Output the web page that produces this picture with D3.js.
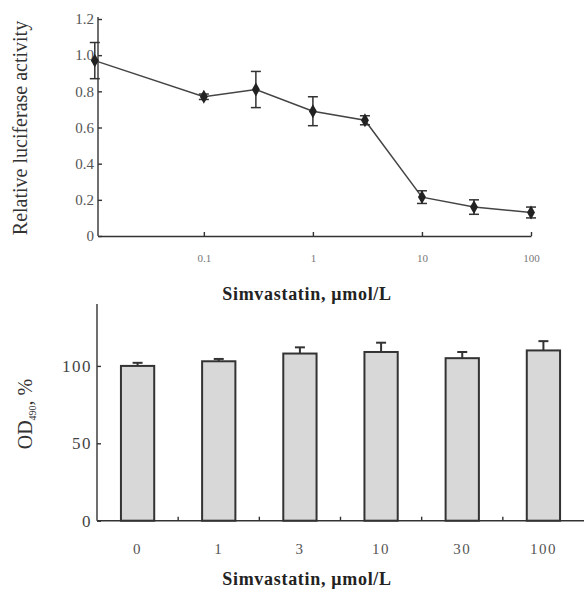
<!DOCTYPE html>
<html>
<head>
<meta charset="utf-8">
<script src="https://cdn.jsdelivr.net/npm/d3@7"></script>
<style>
  body { margin: 0; background: #fff; }
  svg { display: block; font-family: "Liberation Serif", "DejaVu Serif", serif; }
  .axis path, .axis line { stroke: #333; stroke-width: 1.4; }
  .axis text { font-family: "Liberation Serif", serif; }
</style>
</head>
<body>
<script>
// top panel: luciferase vs concentration (log x)
const concentrations = [0.01, 0.1, 0.3, 1, 3, 10, 30, 100];
const luciferase = [0.97, 0.77, 0.81, 0.69, 0.64, 0.215, 0.16, 0.13];
const luciferaseErr = [0.10, 0.015, 0.10, 0.08, 0.025, 0.035, 0.04, 0.03];
const logTicks = [0.1, 1, 10, 100];
const lucTicks = [0, 0.2, 0.4, 0.6, 0.8, 1.0, 1.2];

// bottom panel: OD490 viability bars
const doses = ['0', '1', '3', '10', '30', '100'];
const viability = [100, 103, 108, 109, 105, 110];
const viabilityErr = [2, 1.5, 4, 6, 4, 6];
const odTicks = [0, 50, 100];

const width = 585, height = 599;

const svg = d3.select('body').append('svg')
  .attr('width', width)
  .attr('height', height);

// ---------- top chart ----------
const x1 = d3.scaleLog().domain([0.0107, 100]).range([98, 531]);
const y1 = d3.scaleLinear().domain([0, 1.2]).range([236, 19]);

const topG = svg.append('g');

topG.append('g')
  .attr('class', 'axis')
  .attr('transform', 'translate(0,236)')
  .call(d3.axisBottom(x1).tickValues(logTicks).tickSize(-4).tickSizeOuter(0)
    .tickFormat(d => String(d)))
  .call(g => g.selectAll('text')
    .attr('y', 18)
    .attr('fill', '#777')
    .style('font-size', '11px'));

topG.append('g')
  .attr('class', 'axis')
  .attr('transform', 'translate(98,0)')
  .call(d3.axisLeft(y1).tickValues(lucTicks).tickSize(-4).tickSizeOuter(0)
    .tickFormat(d => d === 0 ? '0' : d3.format('.1f')(d)))
  .call(g => g.select('.domain').attr('d', 'M0,17V236'))
  .call(g => g.selectAll('text')
    .attr('x', -4)
    .attr('fill', '#555')
    .style('font-size', '15px'));

const pts = concentrations.map((c, i) => ({ c, v: luciferase[i], e: luciferaseErr[i] }));

topG.append('path')
  .datum(pts)
  .attr('fill', 'none')
  .attr('stroke', '#444')
  .attr('stroke-width', 1.5)
  .attr('d', d3.line().x(d => x1(d.c)).y(d => y1(d.v)));

const eb = topG.append('g').attr('stroke', '#333').attr('stroke-width', 1.5);
pts.forEach(d => {
  const cx = x1(d.c);
  eb.append('line').attr('x1', cx).attr('x2', cx).attr('y1', y1(d.v + d.e)).attr('y2', y1(d.v - d.e));
  eb.append('line').attr('x1', cx - 5).attr('x2', cx + 5).attr('y1', y1(d.v + d.e)).attr('y2', y1(d.v + d.e));
  eb.append('line').attr('x1', cx - 5).attr('x2', cx + 5).attr('y1', y1(d.v - d.e)).attr('y2', y1(d.v - d.e));
});

topG.selectAll('.dot')
  .data(pts)
  .join('path')
  .attr('class', 'dot')
  .attr('transform', d => `translate(${x1(d.c)},${y1(d.v)})`)
  .attr('d', d3.symbol().type(d3.symbolDiamond).size(55))
  .attr('fill', '#222');

svg.append('text')
  .attr('transform', 'translate(27,128) rotate(-90)')
  .attr('text-anchor', 'middle')
  .attr('fill', '#333')
  .style('font-size', '20px')
  .text('Relative luciferase activity');

svg.append('text')
  .attr('x', 307).attr('y', 300)
  .attr('text-anchor', 'middle')
  .attr('fill', '#222')
  .style('font-size', '18px')
  .style('font-weight', 'bold')
  .style('letter-spacing', '0.7px')
  .text('Simvastatin, \u03bcmol/L');

// ---------- bottom chart ----------
const x2 = d3.scaleBand().domain(doses).range([97, 584]).paddingInner(0.59).paddingOuter(0.295);
const y2 = d3.scaleLinear().domain([0, 140]).range([520.7, 304]);

const botG = svg.append('g');

botG.selectAll('.bar')
  .data(doses)
  .join('rect')
  .attr('class', 'bar')
  .attr('x', d => x2(d))
  .attr('y', (d, i) => y2(viability[i]))
  .attr('width', x2.bandwidth())
  .attr('height', (d, i) => y2(0) - y2(viability[i]))
  .attr('fill', '#d8d8d8')
  .attr('stroke', '#333')
  .attr('stroke-width', 2);

const eb2 = botG.append('g').attr('stroke', '#333').attr('stroke-width', 2);
doses.forEach((d, i) => {
  const cx = x2(d) + x2.bandwidth() / 2;
  const yt = y2(viability[i] + viabilityErr[i]);
  eb2.append('line').attr('x1', cx).attr('x2', cx).attr('y1', y2(viability[i])).attr('y2', yt);
  eb2.append('line').attr('x1', cx - 5).attr('x2', cx + 5).attr('y1', yt).attr('y2', yt);
});

// x axis with ticks between the bars
const step = x2.step();
const boundaries = doses.slice(1).map(d => x2(d) - x2.paddingInner() * step / 2);
botG.append('g')
  .attr('class', 'axis')
  .attr('transform', 'translate(0,520.7)')
  .call(d3.axisBottom(x2).tickSize(0).tickSizeOuter(0))
  .call(g => g.select('.domain').attr('d', 'M97,0H584'))
  .call(g => g.selectAll('text')
    .attr('y', 23)
    .attr('fill', '#555')
    .style('font-size', '15px')
    .style('letter-spacing', '1.5px'))
  .call(g => g.selectAll('.bnd')
    .data(boundaries)
    .join('line')
    .attr('class', 'bnd')
    .attr('x1', d => d).attr('x2', d => d)
    .attr('y1', 0).attr('y2', -4));

botG.append('g')
  .attr('class', 'axis')
  .attr('transform', 'translate(97,0)')
  .call(d3.axisLeft(y2).tickValues(odTicks).tickSize(-4).tickSizeOuter(0))
  .call(g => g.select('.domain').attr('d', 'M0,304V520.7'))
  .call(g => g.selectAll('text')
    .attr('x', -5)
    .attr('fill', '#444')
    .style('font-size', '17px')
    .style('letter-spacing', '1.5px'));

const odLabel = svg.append('text')
  .attr('transform', 'translate(32,414) rotate(-90)')
  .attr('text-anchor', 'middle')
  .attr('fill', '#333')
  .style('font-size', '20px');
odLabel.append('tspan').text('OD');
odLabel.append('tspan').attr('dy', 4).style('font-size', '10px').text('490');
odLabel.append('tspan').attr('dy', -4).text(', %');

svg.append('text')
  .attr('x', 307).attr('y', 585)
  .attr('text-anchor', 'middle')
  .attr('fill', '#222')
  .style('font-size', '18px')
  .style('font-weight', 'bold')
  .style('letter-spacing', '0.7px')
  .text('Simvastatin, \u03bcmol/L');
</script>
</body>
</html>
